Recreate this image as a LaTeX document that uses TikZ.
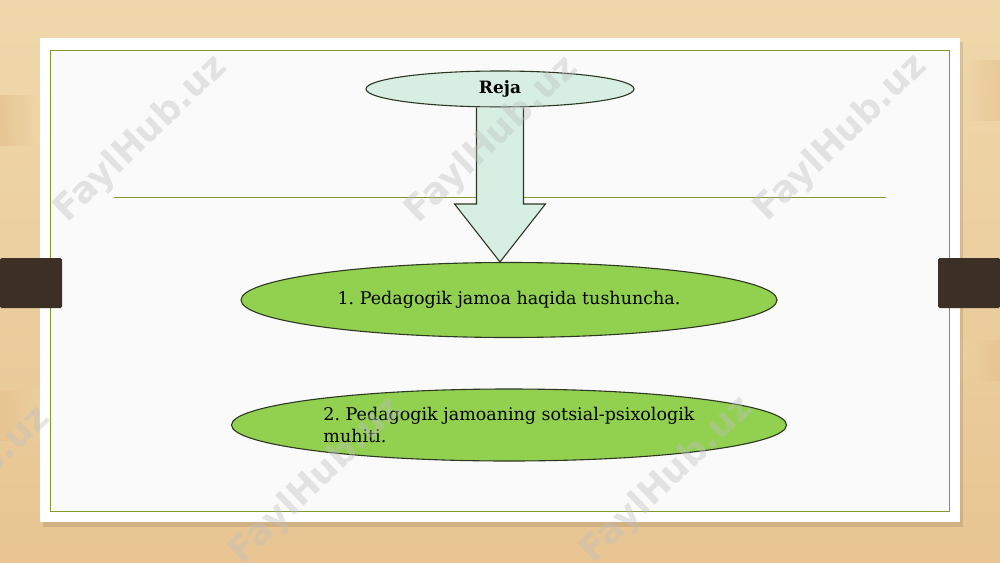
\documentclass[tikz,border=0pt]{standalone}
\usepackage{fontspec}
\setmainfont{DejaVu Serif}
\newfontfamily\wmfont{DejaVu Sans}
\usetikzlibrary{shapes.geometric, calc}
\definecolor{woodlight}{RGB}{240,216,172}
\definecolor{wooddark}{RGB}{226,184,128}
\definecolor{frameolive}{RGB}{128,152,48}
\definecolor{tabbrown}{RGB}{60,48,38}
\definecolor{mintfill}{RGB}{214,239,226}
\definecolor{leaffill}{RGB}{146,208,80}
\definecolor{ovaledge}{RGB}{45,55,35}
\frenchspacing
\begin{document}
\begin{tikzpicture}[x=1pt, y=-1pt,
  oval/.style={draw=ovaledge, line width=1.1pt, ellipse, inner sep=0pt},
  itemtext/.style={font=\fontsize{17.5}{22}\selectfont},
  wmtext/.style={text=gray!50, opacity=0.4, rotate=44, font=\wmfont\bfseries\fontsize{36}{36}\selectfont}]
\useasboundingbox (0,0) rectangle (1000,562);

% Stol (yog'och fon)
\shade[top color=woodlight, bottom color=wooddark!60!woodlight] (0,0) rectangle (1000,562);
\shade[left color=wooddark, right color=woodlight, opacity=0.5] (0,95) rectangle (40,145);
\shade[left color=wooddark, right color=woodlight, opacity=0.3] (0,390) rectangle (40,440);
\shade[right color=wooddark, left color=woodlight, opacity=0.4] (960,60) rectangle (1000,120);
\shade[right color=wooddark, left color=woodlight, opacity=0.3] (960,340) rectangle (1000,380);

% Varaq va soyasi
\fill[black, opacity=0.10] (43,42) rectangle (963,527);
\fill[white] (40,38) rectangle (960,522);
\fill[black!2] (50,50) rectangle (949,511);
\draw[frameolive, line width=1pt] (50,50) rectangle (949,511);

% Qisqichlar
\fill[tabbrown, rounded corners=1.5pt] (0,258) rectangle (62,308);
\fill[tabbrown, rounded corners=1.5pt] (938,258) rectangle (1000,308);

% Sarlavha chizig'i
\draw[frameolive, line width=0.9pt] (114,197) -- (886,197);

% Reja
\node (reja) [oval, fill=mintfill, minimum width=268pt, minimum height=36pt] at (500,89) {\fontsize{17}{20}\selectfont\bfseries Reja};

% Birinchi savol
\node (it1) [oval, fill=leaffill, minimum width=536pt, minimum height=75pt, itemtext] at (509,300) {1. Pedagogik jamoa haqida tushuncha.};

% Ikkinchi savol
\node (it2) [oval, fill=leaffill, minimum width=555pt, minimum height=72pt, itemtext, align=left] at (509,425) {2. Pedagogik jamoaning sotsial-psixologik\\muhiti.};

% Katta strelka
\coordinate (tip) at (reja.south |- it1.north);
\path[draw=ovaledge, fill=mintfill, line width=1.1pt, line join=miter]
  ($(reja.south)+(-23.5,0)$) -- ($(tip)+(-23.5,-58)$) -- ($(tip)+(-45.5,-58)$) -- (tip)
  -- ($(tip)+(45.5,-58)$) -- ($(tip)+(23.5,-58)$) -- ($(reja.south)+(23.5,0)$);

% Suv belgilari
\node (wm1) [wmtext] at (141,139) {FaylHub.uz};
\node (wm2) [wmtext] at (492,140) {FaylHub.uz};
\node (wm3) [wmtext] at (841,138) {FaylHub.uz};
\node (wm4) [wmtext] at (-36,490) {FaylHub.uz};
\node (wm5) [wmtext] at (316,481) {FaylHub.uz};
\node (wm6) [wmtext] at (667,480) {FaylHub.uz};

\end{tikzpicture}
\end{document}
